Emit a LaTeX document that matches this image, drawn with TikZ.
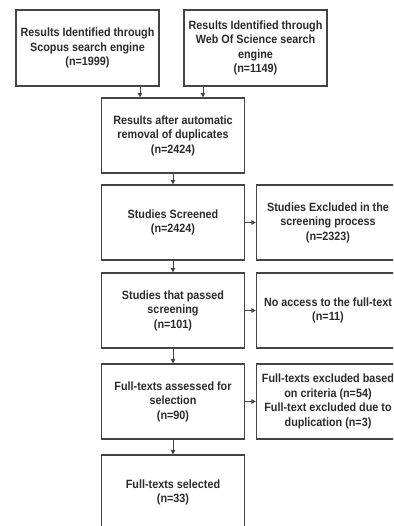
\documentclass[tikz,border=0pt]{standalone}
\usepackage{fontspec}
\setmainfont{Liberation Sans}[FakeStretch=0.9]
\usetikzlibrary{arrows.meta}
\definecolor{boxline}{HTML}{444444}
\definecolor{txt}{HTML}{2A2A2A}
\tikzset{
  box/.style={draw=boxline, line width=1.2pt, rectangle, minimum width=143pt, minimum height=75pt,
    align=center, text=txt, font=\bfseries\fontsize{12}{14.5}\selectfont, inner sep=1pt},
  conn/.style={draw=boxline, line width=1pt, -{Triangle[length=4.5pt,width=4.5pt]}}
}
\begin{document}
\begin{tikzpicture}[x=1pt,y=-1pt]
\useasboundingbox (0,0) rectangle (393,526);
\clip (0,0) rectangle (393,526);
\node[box, minimum height=76pt] (b1) at (87.5,48) {Results Identified through\\Scopus search engine\\(n=1999)};
\node[box, minimum height=76pt] (b2) at (255.5,48) {Results Identified through\\Web Of Science search\\engine\\(n=1149)};
\node[box] (b3) at (173,135.5) {Results after automatic\\removal of duplicates\\(n=2424)};
\node[box] (b4) at (173,222.5) {Studies Screened\\(n=2424)};
\node[box] (b5) at (328,222.5) {Studies Excluded in the\\screening process\\(n=2323)};
\node[box] (b6) at (173,310.5) {Studies that passed\\screening\\(n=101)};
\node[box] (b7) at (328,310.5) {No access to the full-text\\(n=11)};
\node[box] (b8) at (173,401.5) {Full-texts assessed for\\selection\\(n=90)};
\node[box] (b9) at (328,401.5) {Full-texts excluded based\\on criteria (n=54)\\Full-text excluded due to\\duplication (n=3)};
\node[box] (b10) at (173,492.5) {Full-texts selected\\(n=33)};
\draw[conn] (b1.south -| 140,0) -- (b3.north -| 140,0);
\draw[conn] (b2.south -| 203,0) -- (b3.north -| 203,0);
\draw[conn] (b3) -- (b4);
\draw[conn] (b4) -- (b6);
\draw[conn] (b6) -- (b8);
\draw[conn] (b8) -- (b10);
\draw[conn] (b4) -- (b5);
\draw[conn] (b6) -- (b7);
\draw[conn] (b8) -- (b9);
\end{tikzpicture}
\end{document}
